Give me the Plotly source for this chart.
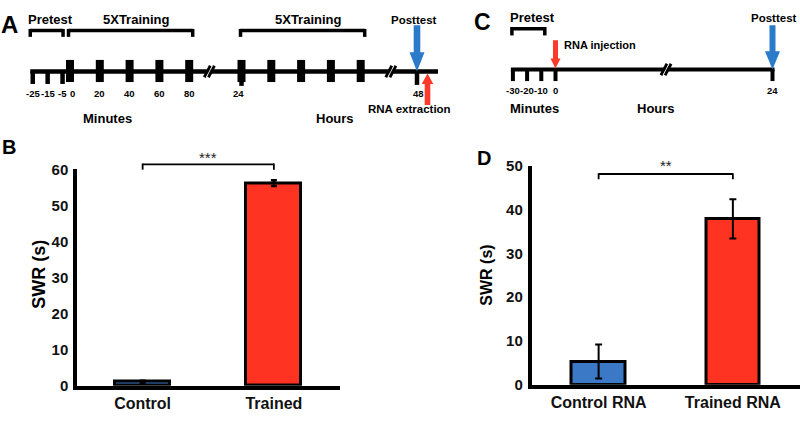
import plotly.graph_objects as go

# ---------------- data ----------------
b_groups = ["Control", "Trained"]
b_swr = [1.1, 56.2]
b_err = [0.3, 0.8]
b_sig = "***"
b_yticks = [0, 10, 20, 30, 40, 50, 60]

d_groups = ["Control RNA", "Trained RNA"]
d_swr = [5.3, 37.9]
d_err = [3.9, 4.5]
d_sig = "**"
d_yticks = [0, 10, 20, 30, 40, 50]

bar_colors = ["#3b78c6", "#ff3322"]
arrow_blue = "#2b7bca"
arrow_red = "#ff3a2a"

# timeline A (minutes within a session, session start in hours)
a_pretest_min = [-25, -15, -5]
a_training_min = [0, 20, 40, 60, 80]
a_session_hours = [0, 24]
a_post_hours = 48
a_labels_min = ["-25", "-15", "-5", "0", "20", "40", "60", "80"]

# timeline C
c_pretest_min = [-30, -20, -10, 0]
c_labels_min = ["-30", "-20", "-10", "0"]
c_post_hours = 24

W, H = 800, 436
FONT = "Arial, 'Liberation Sans', sans-serif"


def X(px):
    return px / W


def Y(py):
    return 1 - py / H


# piecewise time scales for the two schematic timelines (pixel positions)
A_ORIGIN = {0: 70.0, 24: 241.5, 48: 417.0}
A_PX_PER_MIN = 1.49
C_ORIGIN = {0: 555.5, 24: 772.5}
C_PX_PER_MIN = 1.42


def ax_(hours, minutes=0):
    return A_ORIGIN[hours] + A_PX_PER_MIN * minutes


def cx_(hours, minutes=0):
    return C_ORIGIN[hours] + C_PX_PER_MIN * minutes


shapes = []
annotations = []


def line(x0, y0, x1, y1, w, color="black"):
    shapes.append(dict(type="line", xref="paper", yref="paper",
                       x0=X(x0), y0=Y(y0), x1=X(x1), y1=Y(y1),
                       line=dict(color=color, width=w)))


def rect(x0, y0, x1, y1, color="black"):
    shapes.append(dict(type="rect", xref="paper", yref="paper",
                       x0=X(x0), y0=Y(y0), x1=X(x1), y1=Y(y1),
                       fillcolor=color, line=dict(width=0)))


def text(s, x, y, size, xanchor="center", color="black"):
    annotations.append(dict(text=s, xref="paper", yref="paper", x=X(x), y=Y(y),
                            xanchor=xanchor, yanchor="middle", showarrow=False,
                            font=dict(family=FONT, size=size, color=color, weight=700)))


def arrow(xc, y_tail, y_tip, shaft_hw, head_hw, head_len, color):
    d = 1 if y_tip > y_tail else -1
    yb = y_tip - d * head_len
    pts = [(xc - shaft_hw, y_tail), (xc + shaft_hw, y_tail), (xc + shaft_hw, yb),
           (xc + head_hw, yb), (xc, y_tip), (xc - head_hw, yb), (xc - shaft_hw, yb)]
    path = "M " + " L ".join(f"{X(px):.5f},{Y(py):.5f}" for px, py in pts) + " Z"
    shapes.append(dict(type="path", xref="paper", yref="paper", path=path,
                       fillcolor=color, line=dict(width=0)))


def brk(x, y):
    line(x - 5, y + 6, x + 1, y - 6, 3)
    line(x - 1, y + 6, x + 5, y - 6, 3)
    line(x - 3, y + 6, x + 3, y - 6, 0.8, "white")


def bracket(x0, x1, y, drop, w):
    line(x0, y, x1, y, w)
    line(x0, y - w / 2, x0, y + drop, w)
    line(x1, y - w / 2, x1, y + drop, w)


# ---------------- panel A timeline ----------------
LA = 65
x_start = ax_(0, a_pretest_min[0]) - 2.5
x_end = ax_(a_post_hours) + 21
line(x_start, LA, x_end, LA, 4.5)
for m in a_pretest_min:
    line(ax_(0, m), LA, ax_(0, m), 78, 4.5)
for h in a_session_hours:
    for m in a_training_min:
        rect(ax_(h, m) - 4, 53, ax_(h, m) + 4, 76)
line(ax_(24), LA, ax_(24), 80, 4.5)
line(ax_(a_post_hours), LA, ax_(a_post_hours), 79, 4.5)
brk((ax_(0, a_training_min[-1]) + ax_(24)) / 2 - 6, LA)
brk((ax_(24, a_training_min[-1]) + ax_(a_post_hours)) / 2 + 2, LA)

for m, s in zip(a_pretest_min + a_training_min, a_labels_min):
    off = 2 if m == 0 else 0
    text(s, ax_(0, m) + off, 88, 9.5)
text(str(a_session_hours[1]), ax_(24) - 3, 88, 9.5)
text(str(a_post_hours), ax_(a_post_hours) + 1, 88, 9.5)

bracket(ax_(0, a_pretest_min[0]) - 2.5, ax_(0, a_pretest_min[-1]) + 0.5, 22.5, 6.5, 3.5)
bracket(ax_(0, a_training_min[0]) - 1.5, ax_(0, a_training_min[-1]) + 3.5, 22.5, 6.5, 3.5)
bracket(ax_(24, a_training_min[0]) - 1, ax_(24, a_training_min[-1]) + 4, 22.5, 6.5, 3.5)

text("Pretest", 50.5, 11, 13)
text("5XTraining", 136, 11, 13)
text("5XTraining", 308, 11, 13)
text("Posttest", 414, 11, 11.5)
text("RNA extraction", 409, 104.5, 11.5)
text("Minutes", 107, 114, 13)
text("Hours", 334.5, 114, 13)
text("A", 9, 16, 24)

arrow(ax_(a_post_hours), 17, 65, 3.3, 7.5, 20, arrow_blue)
arrow(ax_(a_post_hours) + 10.5, 100, 67, 2.8, 5.8, 11, arrow_red)

# ---------------- panel C timeline ----------------
LC = 63
line(cx_(0, c_pretest_min[0]) - 2, LC, cx_(c_post_hours) + 2, LC, 4)
for m in c_pretest_min:
    line(cx_(0, m), LC, cx_(0, m), 75, 4)
line(cx_(c_post_hours), LC, cx_(c_post_hours), 75, 4)
brk(666, LC)
for m, s in zip(c_pretest_min, c_labels_min):
    text(s, cx_(0, m), 85, 9.5)
text(str(c_post_hours), cx_(c_post_hours), 85, 9.5)
bracket(cx_(0, c_pretest_min[0]) - 1, cx_(0, c_pretest_min[-2]) + 3.5, 20.5, 7, 3.5)

text("Pretest", 532.5, 9, 13)
text("Posttest", 774, 9.5, 11.5)
text("RNA injection", 562, 37.5, 11, xanchor="left")
text("Minutes", 534.5, 104, 13)
text("Hours", 656, 104, 13)
text("C", 482.5, 14, 23)

arrow(cx_(c_post_hours), 17, 63, 3, 7.5, 19, arrow_blue)
arrow(cx_(0), 32.5, 62, 2.5, 5, 10.5, arrow_red)

# ---------------- bar panels ----------------
fig = go.Figure()
fig.add_trace(go.Bar(
    x=b_groups, y=b_swr, width=0.42, xaxis="x", yaxis="y",
    marker=dict(color=bar_colors, line=dict(color="black", width=3)),
    error_y=dict(type="data", array=b_err, color="black", thickness=2.5, width=3),
    showlegend=False, hoverinfo="skip"))
fig.add_trace(go.Bar(
    x=d_groups, y=d_swr, width=0.40, xaxis="x2", yaxis="y2",
    marker=dict(color=bar_colors, line=dict(color="black", width=3)),
    error_y=dict(type="data", array=d_err, color="black", thickness=2, width=3.5),
    showlegend=False, hoverinfo="skip"))

# significance brackets (x in category units, y in paper)
for xr, yb, drop, sig, ys in (("x", 161.7, 5.5, b_sig, 154.5), ("x2", 171.7, 5.5, d_sig, 163)):
    shapes.append(dict(type="line", xref=xr, yref="paper", x0=0, x1=1,
                       y0=Y(yb), y1=Y(yb), line=dict(color="black", width=1.8)))
    for xi in (0, 1):
        shapes.append(dict(type="line", xref=xr, yref="paper", x0=xi, x1=xi,
                           y0=Y(yb - 0.9), y1=Y(yb + drop), line=dict(color="black", width=1.8)))
    annotations.append(dict(text=sig, xref=xr, yref="paper", x=0.5, y=Y(ys),
                            xanchor="center", yanchor="middle", showarrow=False,
                            font=dict(family=FONT, size=15, color="#222")))

text("B", 9, 144, 20)
text("D", 483.5, 155, 20)
annotations.append(dict(text="SWR (s)", xref="paper", yref="paper", x=X(39.5), y=Y(276),
                        textangle=-90, showarrow=False, xanchor="center", yanchor="middle",
                        font=dict(family=FONT, size=18, color="black", weight=700)))
annotations.append(dict(text="SWR (s)", xref="paper", yref="paper", x=X(486.5), y=Y(277),
                        textangle=-90, showarrow=False, xanchor="center", yanchor="middle",
                        font=dict(family=FONT, size=16, color="black", weight=700)))

tickfont = dict(family=FONT, size=16, color="#111", weight=700)
ytickfont = dict(family=FONT, size=15, color="#111", weight=700)

fig.update_layout(
    width=W, height=H, margin=dict(l=0, r=0, t=0, b=0),
    paper_bgcolor="white", plot_bgcolor="rgba(0,0,0,0)",
    bargap=0,
    xaxis=dict(domain=[X(77), X(339.5)], anchor="y", type="category",
               range=[-0.5, 1.5], showline=True, linecolor="black", linewidth=3.5,
               ticks="", tickfont=tickfont, showgrid=False, zeroline=False,
               fixedrange=True),
    yaxis=dict(domain=[Y(392), Y(167)], anchor="x", range=[0, 60],
               tickvals=b_yticks, showline=True, linecolor="black", linewidth=3.5,
               ticks="", tickfont=ytickfont, showgrid=False, zeroline=False,
               ticklabelstandoff=2, fixedrange=True),
    xaxis2=dict(domain=[X(531.5), 1], anchor="y2", type="category",
                range=[-0.5, 1.5], showline=True, linecolor="black", linewidth=3.5,
                ticks="", tickfont=tickfont, showgrid=False, zeroline=False,
                fixedrange=True),
    yaxis2=dict(domain=[Y(391), Y(163.3)], anchor="x2", range=[0, 50],
                tickvals=d_yticks, showline=True, linecolor="black", linewidth=3.5,
                ticks="", tickfont=ytickfont, showgrid=False, zeroline=False,
                ticklabelstandoff=2, fixedrange=True),
    shapes=shapes,
    annotations=annotations,
)

fig.write_html("out.html", config={"displayModeBar": False},
               post_script="document.body.style.margin='0';document.body.style.overflow='hidden';")
